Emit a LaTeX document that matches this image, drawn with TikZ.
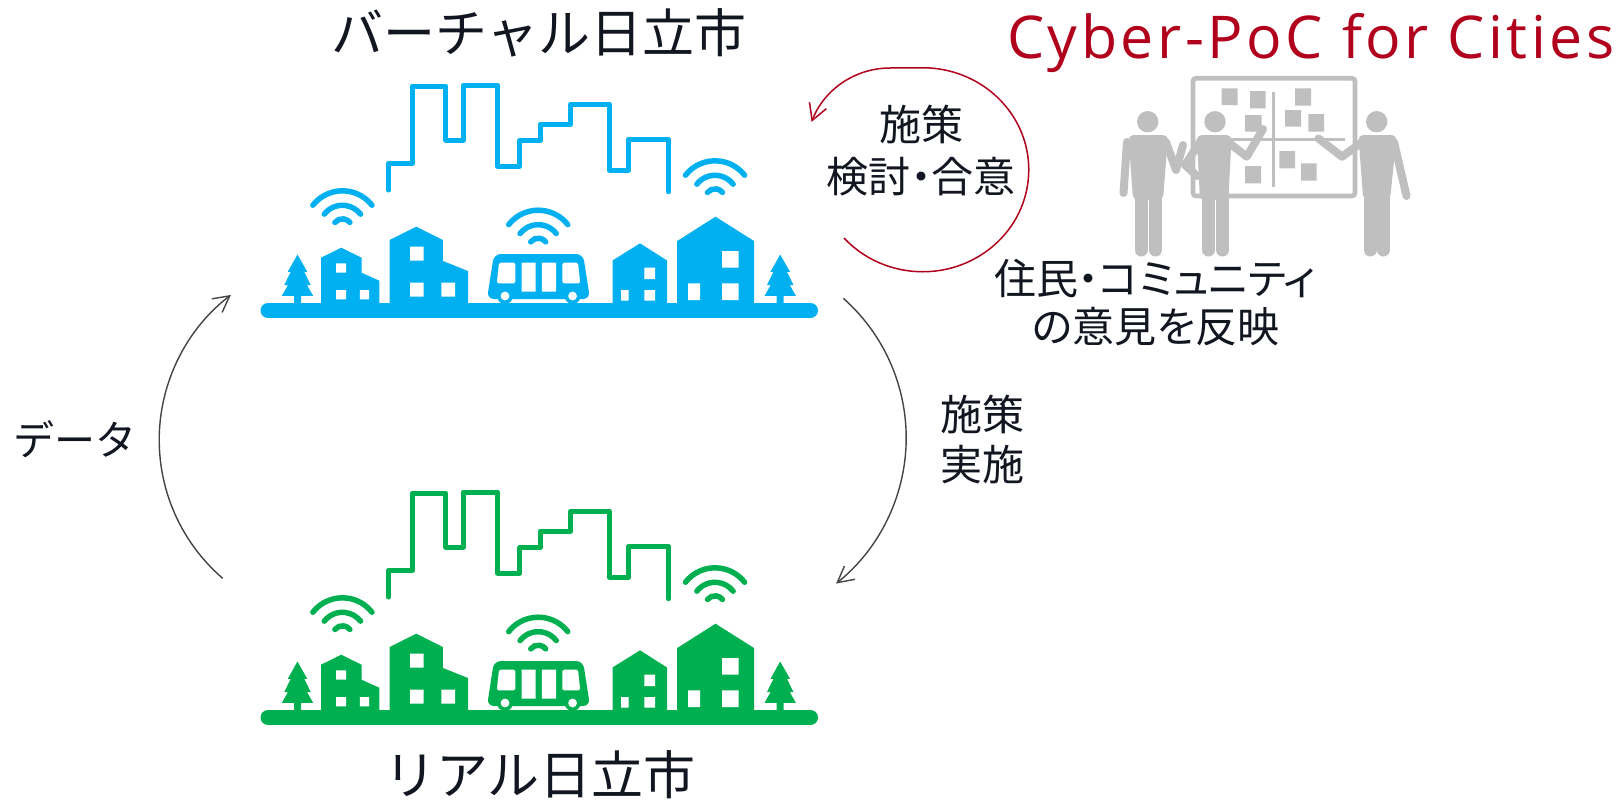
\documentclass[tikz,border=0pt]{standalone}
\usepackage{fontspec}
\usetikzlibrary{arrows.meta}
\newfontfamily\jpfont{Noto Sans CJK JP}
\newfontfamily\jppfont[RawFeature=+palt]{Noto Sans CJK JP}
\newfontfamily\pocfont[LetterSpace=6]{Open Sans}
\definecolor{inkc}{RGB}{18,22,32}
\definecolor{virtualblue}{RGB}{0,176,240}
\definecolor{realgreen}{RGB}{0,176,80}
\definecolor{pocred}{RGB}{176,0,28}
\definecolor{peoplegray}{RGB}{191,191,191}
\definecolor{arcgray}{RGB}{68,68,68}

% three wifi arcs; #1 = centre x, #2 = top of the outer arc
\newcommand\wifi[2]{%
  \foreach \r in {37.5,23,9.5}{%
    \draw[wifiline] (#1,#2+40) ++(-142:\r) arc[start angle=-142,end angle=-38,radius=\r];}}

% pine tree with its peak at (#1,#2)
\newcommand\pine[2]{%
  \fill (#1,#2) -- ++(9.8,17.4) -- ++(-3,0) -- ++(6.5,13.3) -- ++(-3.7,0)
    -- ++(6.1,10.7) -- ++(-12.2,0) -- ++(0,8) -- ++(-7,0) -- ++(0,-8)
    -- ++(-12.2,0) -- ++(6.1,-10.7) -- ++(-3.7,0) -- ++(6.5,-13.3)
    -- ++(-3,0) -- cycle;}

% the whole town in one colour
\newcommand\town[1]{%
  \begin{scope}[draw=#1, fill=#1]
    % skyline outline
    \draw[line width=5pt, line join=round, line cap=round]
      (388.6,190) -- (388.6,163.3) -- (412.6,163.3) -- (412.6,86) -- (445.9,86)
      -- (445.9,140) -- (463.6,140) -- (463.6,85) -- (497.6,85) -- (497.6,166)
      -- (519.8,166) -- (519.8,140.7) -- (540.1,140.7) -- (540.1,124)
      -- (570.8,124) -- (570.8,104.3) -- (609.2,104.3) -- (609.2,170)
      -- (628.8,170) -- (628.8,139.3) -- (668.7,139.3) -- (668.7,191.7);
    % signals
    \wifi{342.4}{188.3}
    \wifi{715}{158.3}
    \wifi{538.2}{207.7}
    % trees
    \pine{297.5}{254.5}
    \pine{780.2}{254.5}
    % small house, left
    \fill (321,304) -- (321,257.7) -- (341.3,247.7) -- (361.5,257.7) -- (361.5,272.7)
      -- (379.3,280.7) -- (379.3,304) -- cycle;
    \fill[white] (336.1,263.3) rectangle (346.1,272.7)
                 (336.1,290) rectangle (346.1,299.3)
                 (359.8,290) rectangle (369,299.3);
    % tall house, left
    \fill (389.7,304) -- (389.7,240) -- (416.3,226.7) -- (442.9,240) -- (442.9,261)
      -- (468,271) -- (468,304) -- cycle;
    \fill[white] (410,246.7) rectangle (423.7,260.7)
                 (410,282.7) rectangle (423.7,296.7)
                 (441.4,282.7) rectangle (455.1,296.7);
    % bus
    \fill[rounded corners=7pt] (494,254) -- (583,254) -- (590,299) -- (487,299) -- cycle;
    \fill[white, rounded corners=1.5pt] (499,262.7) -- (515.3,262.7) -- (515.3,283.3) -- (496.8,283.3) -- cycle;
    \fill[white] (521.6,262.7) rectangle (535.7,291.7)
                 (541.9,262.7) rectangle (556,291.7);
    \fill[white, rounded corners=1.5pt] (562.3,262.7) -- (578,262.7) -- (580.2,283.3) -- (562.3,283.3) -- cycle;
    \fill (505,296) circle[radius=8] (572.6,296) circle[radius=8];
    \fill[white] (505,296) circle[radius=4.4] (572.6,296) circle[radius=4.4];
    % small house, right
    \fill (612.5,304) -- (612.5,260.5) -- (640,243.3) -- (667,260.5) -- (667,304) -- cycle;
    \fill[white] (644.3,267.7) rectangle (655.2,279)
                 (621,290) rectangle (628.5,300.7)
                 (644.3,290) rectangle (655.2,300.7);
    % tall house, right
    \fill (677.2,304) -- (677.2,241) -- (715.5,216.7) -- (754,241) -- (754,304) -- cycle;
    \fill[white] (722,251) rectangle (738.6,267.7)
                 (688.2,283.3) rectangle (700,300)
                 (722,283.3) rectangle (738.6,300);
    % ground
    \draw[line width=15pt, line cap=round] (268,310.5) -- (810.5,310.5);
  \end{scope}}

\begin{document}
\begin{tikzpicture}[x=1pt, y=-1pt,
    wifiline/.style={line width=5.5pt, line cap=round},
    label/.style={text=inkc, inner sep=0pt},
    bigjp/.style={label, font=\jpfont\fontsize{52}{60}\selectfont},
    midjp/.style={label, font=\jppfont\fontsize{42}{50}\selectfont},
    flow/.style={draw=arcgray, line width=1.4pt,
      -{Straight Barb[length=16pt, width=17pt, line width=1.4pt]}},
    loop/.style={draw=pocred, line width=1.5pt,
      -{Straight Barb[length=16pt, width=18pt, line width=1.5pt]}},
    person/.style={draw=peoplegray, line width=8pt, line cap=round, line join=round},
    leg/.style={draw=peoplegray, line width=13pt, line cap=round}]

  \fill[white] (0,0) rectangle (1624,801);
  \useasboundingbox (0,0) rectangle (1624,801);

  % virtual and real towns
  \town{virtualblue}
  \begin{scope}[shift={(0,407)}]
    \town{realgreen}
  \end{scope}

  % titles
  \node[bigjp, anchor=base] (virtual) at (539,52) {バーチャル日立市};
  \node[bigjp, anchor=base] (real) at (540,794) {リアル日立市};
  \node[text=pocred, inner sep=0pt, anchor=base west,
        font=\pocfont\fontsize{59}{70}\selectfont] (poc) at (1007,58) {Cyber-PoC for Cities};

  % data flows up, policy flows down
  \coordinate (dataStart) at (222.7,578.3);
  \draw[flow] (dataStart) arc[start angle=130.7, end angle=232.6, radius=182.5];
  \node[label, font=\jpfont\fontsize{41}{50}\selectfont, anchor=base west] (data) at (13,455.5) {データ};

  \coordinate (execStart) at (843.3,298.3);
  \draw[flow] (execStart) arc[start angle=-48.5, end angle=51.4, radius=186.4];
  \node[midjp, anchor=base west] (exec1) at (940,430.3) {施策};
  \node[midjp, anchor=base west] (exec2) at (940,480.3) {実施};

  % deliberation loop
  \coordinate (loopStart) at (844,238);
  \draw[loop] (loopStart) arc[start angle=138, end angle=-90, x radius=106, y radius=102]
    -- (890,68) arc[start angle=-90, end angle=-159, radius=84];
  \node[midjp, anchor=base] (plan1) at (921,140.3) {施策};
  \node[midjp, anchor=base] (plan2) at (921,192) {検討・合意};

  % whiteboard
  \draw[peoplegray, line width=4.7pt, rounded corners=3pt] (1193,78.3) rectangle (1355,196);
  \draw[peoplegray, line width=2.7pt] (1273.3,92.3) -- (1273.3,186.7)
                                      (1196.7,139.3) -- (1345,139.3);
  \fill[peoplegray] (1221.7,88.3) rectangle (1237.7,105)
                    (1250,91) rectangle (1265.7,108.3)
                    (1245,115) rectangle (1261.7,131.7)
                    (1295,88.3) rectangle (1311,105.7)
                    (1285,110) rectangle (1301,126.7)
                    (1308.3,114) rectangle (1324,131.7)
                    (1245,166) rectangle (1261,183.3)
                    (1279.3,151) rectangle (1295,168.3)
                    (1301,163.3) rectangle (1316.7,180.7);

  % residents
  \fill[peoplegray] (1147.7,121.7) circle[radius=10.7];
  \fill[peoplegray, rounded corners=5pt] (1128.5,135) -- (1168,135) -- (1163,200) -- (1133,200) -- cycle;
  \draw[leg] (1141,195) -- (1141,250) (1155.5,195) -- (1155.5,250);
  \draw[person] (1127,142) -- (1123.5,193);
  \draw[person] (1166,142) -- (1176,170) -- (1183,145);

  \fill[peoplegray] (1215,121.7) circle[radius=10.7];
  \fill[peoplegray, rounded corners=5pt] (1196.7,135) -- (1231.7,135) -- (1228.3,200) -- (1200,200) -- cycle;
  \draw[leg] (1208.3,195) -- (1208.3,250) (1222.5,195) -- (1222.5,250);
  \draw[person] (1228,142) -- (1246.7,156.7) -- (1263,129);
  \draw[person] (1200,142) -- (1185,165) -- (1197,176);

  \fill[peoplegray] (1376.7,121.7) circle[radius=10.7];
  \fill[peoplegray, rounded corners=5pt] (1358.3,135) -- (1396.7,135) -- (1390,200) -- (1363.3,200) -- cycle;
  \draw[leg] (1370,195) -- (1370,250) (1383.3,195) -- (1383.3,250);
  \draw[person] (1362,142) -- (1342,156.7) -- (1318.5,138.5);
  \draw[person] (1394,142) -- (1406.5,196);

  \node[midjp, anchor=base] (voice1) at (1155,294) {住民・コミュニティ};
  \node[midjp, anchor=base] (voice2) at (1156,342) {の意見を反映};
\end{tikzpicture}
\end{document}
